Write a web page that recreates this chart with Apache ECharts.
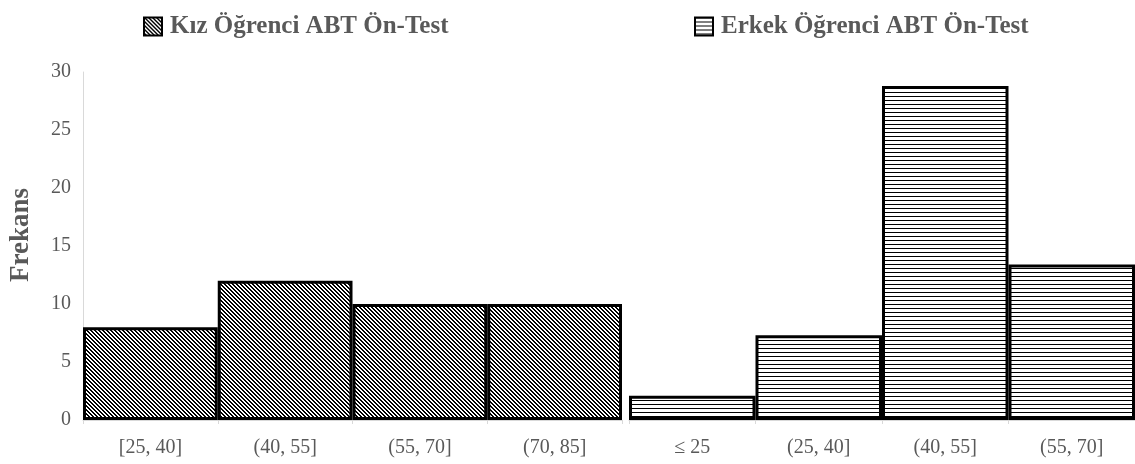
<!DOCTYPE html>
<html>
<head>
<meta charset="utf-8">
<script src="https://cdn.jsdelivr.net/npm/echarts@6/dist/echarts.min.js"></script>
<style>
  html, body { margin: 0; padding: 0; background: #ffffff; }
  #chart { width: 1135px; height: 464px; }
</style>
</head>
<body>
<div id="chart"></div>
<script>
// Score bands and frequencies for each group
const kizCategories = ['[25, 40]', '(40, 55]', '(55, 70]', '(70, 85]'];
const kizValues = [8, 12, 10, 10];
const erkekCategories = ['≤ 25', '(25, 40]', '(40, 55]', '(55, 70]'];
const erkekValues = [2.1, 7.3, 28.8, 13.4];
const yMin = 0;
const yMax = 30;
const yStep = 5;

const kizName = 'Kız Öğrenci ABT Ön-Test';
const erkekName = 'Erkek Öğrenci ABT Ön-Test';

const SERIF = "'Liberation Serif', 'Times New Roman', serif";
const TEXT_GRAY = '#595959';
const AXIS_GRAY = '#d9d9d9';

// Hatch fills built from small repeating tiles
function makeTile(size, isDark) {
  const c = document.createElement('canvas');
  c.width = size; c.height = size;
  const ctx = c.getContext('2d');
  const img = ctx.createImageData(size, size);
  for (let y = 0; y < size; y++) {
    for (let x = 0; x < size; x++) {
      const i = (y * size + x) * 4;
      const v = isDark(x, y) ? 0 : 255;
      img.data[i] = v; img.data[i + 1] = v; img.data[i + 2] = v; img.data[i + 3] = 255;
    }
  }
  ctx.putImageData(img, 0, 0);
  return c;
}
const diagonalFill = {
  image: makeTile(4, (x, y) => { const d = ((x - y) % 4 + 4) % 4; return d === 0 || d === 1; }),
  repeat: 'repeat'
};
const horizontalFill = {
  image: makeTile(4, (x, y) => y === 0),
  repeat: 'repeat'
};

const chart = echarts.init(document.getElementById('chart'), null, { renderer: 'canvas' });

const xAxisCommon = {
  type: 'category',
  boundaryGap: true,
  axisLine: { show: true, lineStyle: { color: AXIS_GRAY, width: 1 } },
  axisTick: { show: true, length: 4, lineStyle: { color: AXIS_GRAY } },
  axisLabel: { color: TEXT_GRAY, fontFamily: SERIF, fontSize: 20, margin: 18 }
};

const legendCommon = {
  top: 9,
  icon: 'rect',
  itemWidth: 18, itemHeight: 18,
  itemStyle: { borderColor: '#000000', borderWidth: 2 },
  textStyle: { color: TEXT_GRAY, fontFamily: SERIF, fontSize: 25, fontWeight: 'bold', padding: [0, 0, 0, 3] },
  selectedMode: false
};

const option = {
  backgroundColor: '#ffffff',
  animation: false,
  legend: [
    Object.assign({ data: [kizName], left: 138 }, legendCommon),
    Object.assign({ data: [erkekName], left: 689 }, legendCommon)
  ],
  grid: [
    { left: 83, right: 513, top: 72, bottom: 44, containLabel: false },
    { left: 629, right: 0, top: 72, bottom: 44, containLabel: false }
  ],
  xAxis: [
    Object.assign({ gridIndex: 0, data: kizCategories }, xAxisCommon),
    Object.assign({ gridIndex: 1, data: erkekCategories }, xAxisCommon)
  ],
  yAxis: [
    {
      gridIndex: 0,
      type: 'value',
      min: yMin, max: yMax, interval: yStep,
      name: 'Frekans',
      nameLocation: 'middle',
      nameRotate: 90,
      nameGap: 48,
      nameTextStyle: { color: TEXT_GRAY, fontFamily: SERIF, fontSize: 27, fontWeight: 'bold', padding: [0, 0, 0, 22] },
      axisLine: { show: true, lineStyle: { color: AXIS_GRAY, width: 1 } },
      axisTick: { show: false },
      splitLine: { show: false },
      axisLabel: { color: TEXT_GRAY, fontFamily: SERIF, fontSize: 20, margin: 12 }
    },
    {
      gridIndex: 1,
      type: 'value',
      min: yMin, max: yMax, interval: yStep,
      show: false,
      splitLine: { show: false }
    }
  ],
  series: [
    {
      name: kizName,
      type: 'bar',
      xAxisIndex: 0, yAxisIndex: 0,
      data: kizValues,
      barCategoryGap: '0%',
      itemStyle: { color: diagonalFill, borderColor: '#000000', borderWidth: 3 }
    },
    {
      name: erkekName,
      type: 'bar',
      xAxisIndex: 1, yAxisIndex: 1,
      data: erkekValues,
      barCategoryGap: '0%',
      itemStyle: { color: horizontalFill, borderColor: '#000000', borderWidth: 3 }
    }
  ]
};

chart.setOption(option);
</script>
</body>
</html>
